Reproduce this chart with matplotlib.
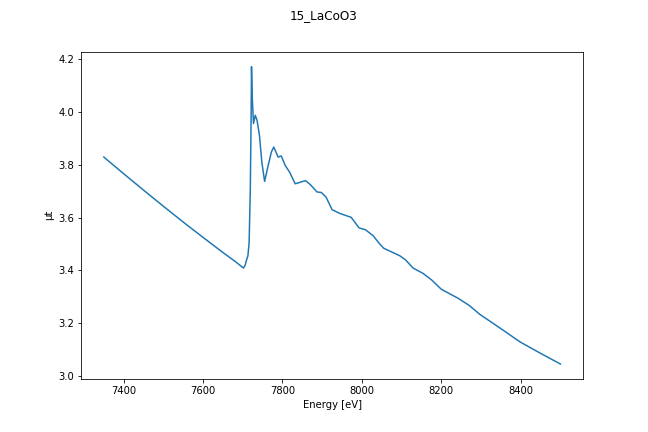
import matplotlib
matplotlib.use("Agg")
import matplotlib.pyplot as plt

# spectrum points
energy = [7350, 7400, 7450, 7500, 7550, 7600, 7650, 7680, 7702,
          7706, 7709, 7713, 7716, 7719, 7721, 7722, 7724, 7727, 7731.5, 7736,
          7742, 7748, 7755, 7763, 7772, 7778, 7783, 7789, 7797, 7807, 7818,
          7832, 7841, 7858, 7870, 7887, 7898, 7910, 7925, 7944, 7973, 7993,
          8009, 8028, 8045, 8055, 8075, 8095, 8110, 8129, 8154, 8175, 8200,
          8242, 8270, 8297, 8347, 8398, 8448, 8500]
mu = [3.829, 3.766, 3.704, 3.643, 3.583, 3.525, 3.468, 3.435, 3.409,
      3.420, 3.437, 3.456, 3.506, 3.709, 3.98, 4.171, 4.05, 3.956, 3.987, 3.968,
      3.911, 3.810, 3.737, 3.791, 3.848, 3.867, 3.850, 3.829, 3.833, 3.797, 3.772,
      3.728, 3.732, 3.740, 3.725, 3.697, 3.695, 3.677, 3.630, 3.616, 3.601, 3.561,
      3.554, 3.532, 3.500, 3.484, 3.470, 3.456, 3.440, 3.409, 3.389, 3.365, 3.329,
      3.295, 3.268, 3.234, 3.183, 3.130, 3.088, 3.046]

fig, ax = plt.subplots(figsize=(9, 6), dpi=72)
fig.subplots_adjust(left=0.125, right=0.9, top=0.88, bottom=0.123)
ax.plot(energy, mu)
ax.set_xlabel("Energy [eV]")
ax.set_ylabel("μt")
fig.suptitle("15_LaCoO3")
fig.savefig("out.png", dpi=72)
